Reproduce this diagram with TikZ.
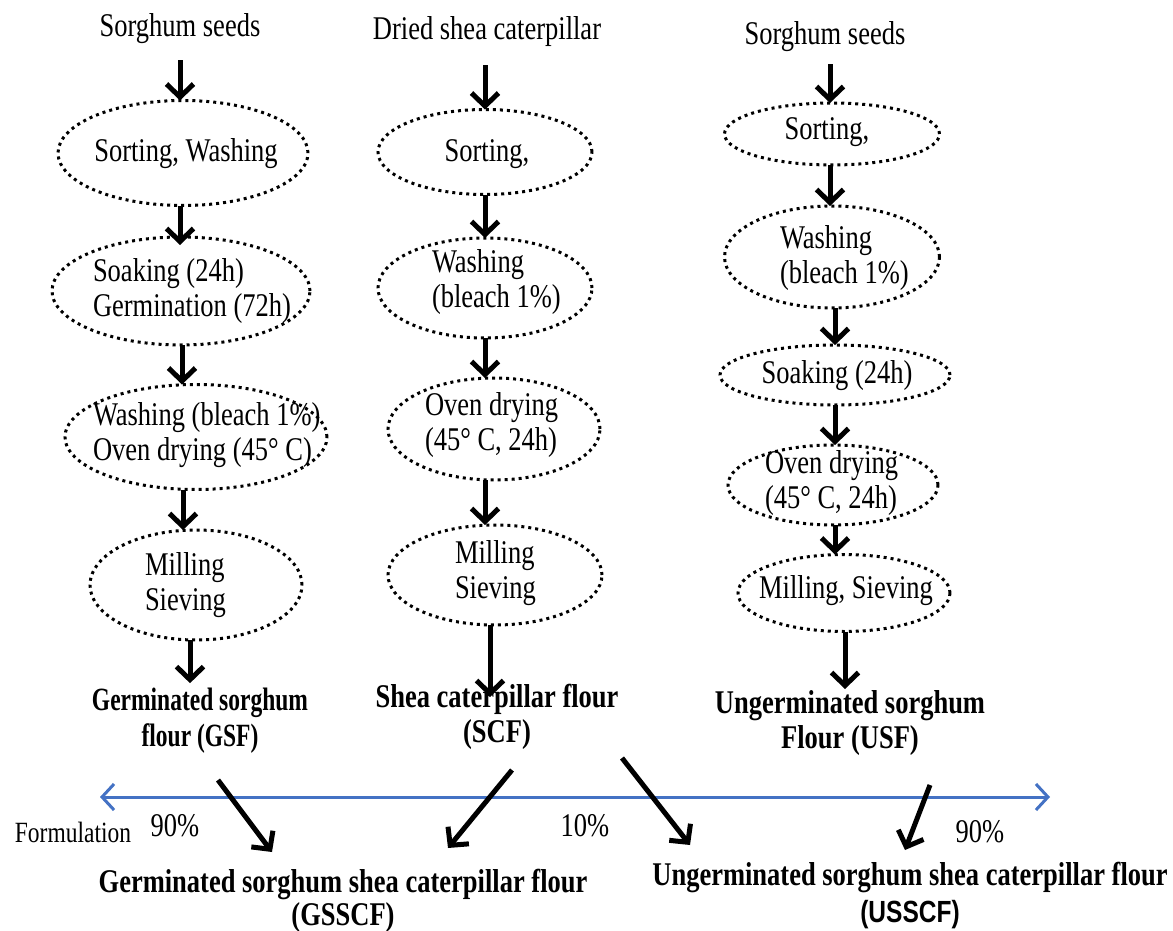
\documentclass[tikz,border=0pt]{standalone}
\usepackage{graphicx}
\usepackage{fontspec}
\setmainfont{Liberation Serif}
\newfontfamily\sansb{Liberation Sans}
\usetikzlibrary{arrows.meta,shapes.geometric}
\newcommand{\vst}[1]{\scalebox{1}[1.25]{#1}}
\newcommand{\ml}[1]{\vst{\begin{tabular}{@{}l@{}}#1\end{tabular}}}
\newcommand{\mc}[1]{\vst{\begin{tabular}{@{}c@{}}#1\end{tabular}}}
\newcommand{\mct}[1]{\scalebox{1}[1.38]{\begin{tabular}{@{}c@{}}#1\end{tabular}}}
\definecolor{lineblue}{RGB}{68,114,196}
\begin{document}
\begin{tikzpicture}[x=1pt,y=-1pt,
  every node/.style={inner sep=0pt, outer sep=0pt, font=\fontsize{26.5}{28}\selectfont},
  txt/.style={yshift=-4pt},
  proc/.style={ellipse, draw, line width=3pt, dash pattern=on 3pt off 4pt},
  lab/.style={yshift=-4pt, font=\fontsize{26.5}{28}\selectfont\bfseries},
  arr/.style={line width=5pt, -{Straight Barb[length=13pt,width=27pt]}},
  barr/.style={draw=lineblue, line width=3pt, {Straight Barb[length=12pt,width=26pt]}-{Straight Barb[length=12pt,width=26pt]}}]
\useasboundingbox (0,0) rectangle (1173,931);

% Column 1
\node[txt] (t1) at (180,25) {\vst{Sorghum seeds}};
\node[proc, minimum width=250pt, minimum height=105pt] (e11) at (183,153) {};
\node[txt] (x11) at (186,150) {\vst{Sorting, Washing}};
\node[proc, minimum width=258pt, minimum height=108pt] (e12) at (181,291) {};
\node[txt, anchor=west] (x12) at (93,288) {\ml{Soaking (24h)\\Germination (72h)}};
\node[proc, minimum width=262pt, minimum height=105pt] (e13) at (196,437) {};
\node[txt, anchor=west] (x13) at (93,432) {\ml{Washing (bleach 1\%)\\Oven drying (45° C)}};
\node[proc, minimum width=212pt, minimum height=110pt] (e14) at (196,585) {};
\node[txt, anchor=west] (x14) at (145,582) {\ml{Milling\\Sieving}};
\node[lab, font=\fontsize{23.5}{26}\selectfont\bfseries] (gsf) at (200,717) {\mct{Germinated sorghum\\flour (GSF)}};

\draw[arr] ([yshift=-16pt]t1.south) -- ([xshift=-3pt]e11.north);
\draw[arr] ([xshift=-3pt]e11.south) -- ([xshift=-1pt,yshift=-8pt]e12.north);
\draw[arr] ([xshift=1pt]e12.south) -- ([xshift=-14pt]e13.north);
\draw[arr] ([xshift=-13pt]e13.south) -- ([xshift=-13pt]e14.north);
\draw[arr] ([xshift=-6pt]e14.south) -- ([xshift=-10pt,yshift=2pt]gsf.north);

% Column 2
\node[txt] (t2) at (487,28) {\vst{Dried shea caterpillar}};
\node[proc, minimum width=214pt, minimum height=85pt] (e21) at (485,152) {};
\node[txt] (x21) at (487,150) {\vst{Sorting,}};
\node[proc, minimum width=214pt, minimum height=100pt] (e22) at (485,288) {};
\node[txt, anchor=west] (x22) at (432,279) {\ml{Washing\\(bleach 1\%)}};
\node[proc, minimum width=212pt, minimum height=102pt] (e23) at (494,429) {};
\node[txt, anchor=west] (x23) at (425,422) {\ml{Oven drying\\(45° C, 24h)}};
\node[proc, minimum width=214pt, minimum height=100pt] (e24) at (495,575) {};
\node[txt, anchor=west] (x24) at (455,570) {\ml{Milling\\Sieving}};
\node[lab] (scf) at (497,714) {\mc{Shea caterpillar flour\\(SCF)}};

\draw[arr] ([xshift=-2pt,yshift=-18pt]t2.south) -- (e21.north);
\draw[arr] (e21.south) -- (e22.north);
\draw[arr] (e22.south) -- ([xshift=-9pt]e23.north);
\draw[arr] ([xshift=-9pt]e23.south) -- ([xshift=-10pt]e24.north);
\draw[arr] ([xshift=-5pt]e24.south) -- ([xshift=-7pt,yshift=-14pt]scf.north);

% Column 3
\node[txt] (t3) at (825,33) {\vst{Sorghum seeds}};
\node[proc, minimum width=215pt, minimum height=62pt] (e31) at (832,134) {};
\node[txt] (x31) at (827,128) {\vst{Sorting,}};
\node[proc, minimum width=215pt, minimum height=102pt] (e32) at (832,257) {};
\node[txt, anchor=west] (x32) at (780,255) {\ml{Washing\\(bleach 1\%)}};
\node[proc, minimum width=230pt, minimum height=60pt] (e33) at (835,375) {};
\node[txt] (x33) at (837,372) {\vst{Soaking (24h)}};
\node[proc, minimum width=210pt, minimum height=80pt] (e34) at (833,485) {};
\node[txt, anchor=west] (x34) at (765,480) {\ml{Oven drying\\(45° C, 24h)}};
\node[proc, minimum width=212pt, minimum height=77pt] (e35) at (844,593) {};
\node[txt] (x35) at (846,587) {\vst{Milling, Sieving}};
\node[lab] (usf) at (850,720) {\mc{Ungerminated sorghum\\Flour (USF)}};

\draw[arr] ([xshift=5pt,yshift=-12pt]t3.south) -- ([xshift=-2pt]e31.north);
\draw[arr] ([xshift=-2pt]e31.south) -- ([xshift=-2pt]e32.north);
\draw[arr] ([xshift=3pt]e32.south) -- (e33.north);
\draw[arr] (e33.south) -- ([xshift=2pt]e34.north);
\draw[arr] ([xshift=2pt]e34.south) -- ([xshift=-9pt]e35.north);
\draw[arr] ([xshift=1pt]e35.south) -- ([xshift=-5pt]usf.north);

% Formulation
\coordinate (fl) at (100,797);
\coordinate (fr) at (1050,797);
\draw[barr] (fl) -- (fr);
\node[txt, font=\fontsize{23.5}{26}\selectfont] (form) at (73,828) {\vst{Formulation}};
\node[txt] (p1) at (175,822) {\vst{90\%}};
\node[txt] (p2) at (585,822) {\vst{10\%}};
\node[txt] (p3) at (980,828) {\vst{90\%}};

\node[lab, font=\fontsize{26.5}{26}\selectfont\bfseries] (gsscf) at (343,898) {\mc{Germinated sorghum shea caterpillar flour\\(GSSCF)}};
\node[lab] (usscf) at (910,893) {\mc{Ungerminated sorghum shea caterpillar flour\\[1pt]{\sansb\bfseries\fontsize{24.5}{26}\selectfont (USSCF)}}};

\coordinate (g1s) at (218,780); \coordinate (g1e) at (272,852);
\coordinate (s1s) at (512,770); \coordinate (s1e) at (448,848);
\coordinate (s2s) at (622,758); \coordinate (s2e) at (690,845);
\coordinate (u1s) at (930,785); \coordinate (u1e) at (905,850);
\draw[arr] (g1s) -- (g1e);
\draw[arr] (s1s) -- (s1e);
\draw[arr] (s2s) -- (s2e);
\draw[arr] (u1s) -- (u1e);
\end{tikzpicture}
\end{document}
